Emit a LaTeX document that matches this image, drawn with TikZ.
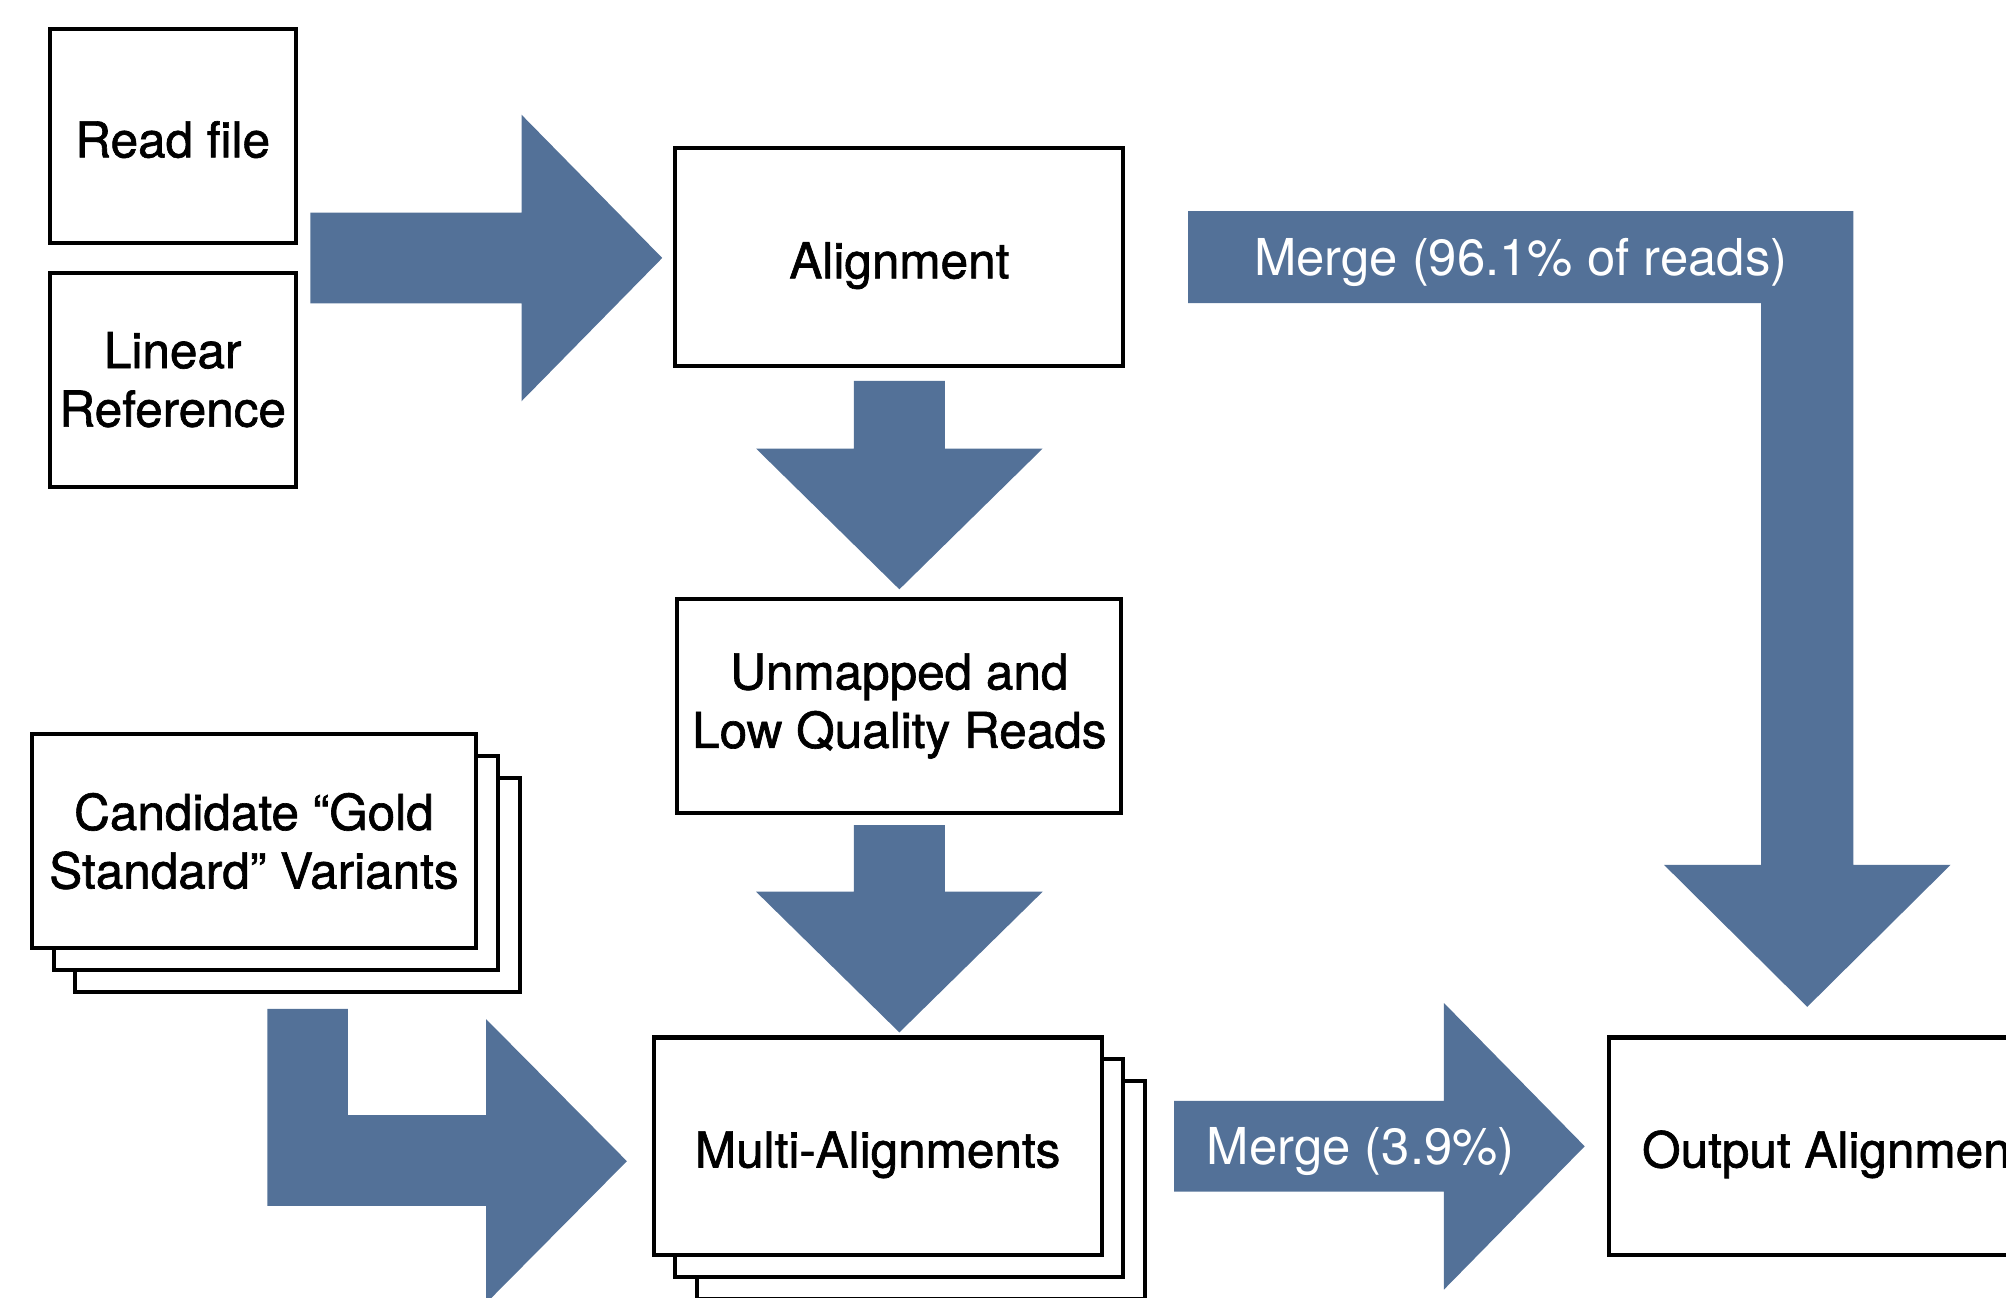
\documentclass[tikz,border=0pt]{standalone}
\usepackage{fontspec}
\setmainfont{TeX Gyre Heros}
\newfontfamily\boxfont{TeX Gyre Heros}[FakeBold=1.3]
\usetikzlibrary{positioning,calc,shadows}
\definecolor{FlowBlue}{RGB}{83,113,152}
\tikzset{
  pbox/.style={rectangle,draw=black,line width=0.9pt,fill=white,
               font=\boxfont\fontsize{11pt}{13pt}\selectfont,align=center,
               minimum width=3.5cm,minimum height=1.7cm,inner sep=2pt},
  sbox/.style={pbox,minimum width=1.92cm,minimum height=1.67cm},
  pstack/.style={pbox,
               copy shadow={shadow xshift=0.34cm,shadow yshift=-0.34cm},
               copy shadow={shadow xshift=0.17cm,shadow yshift=-0.17cm}},
  oneline/.style={text height=9.4pt,text depth=0pt},
  barrow/.style={fill=FlowBlue},
  mlabel/.style={text=white,font=\fontsize{11.3pt}{13pt}\selectfont,inner sep=0pt,
               text height=8.1pt,text depth=0pt},
}
% block arrows: #1 tail centre, #2 shaft length
\newcommand{\hblock}[2]{%
  \fill[barrow] (#1) ++(0,-35.5) -- ++(#2,0) -- ++(0,-76.5) -- ++(110,112)
    -- ++(-110,112) -- ++(0,-76.5) -- ++(-#2,0) -- cycle;}
\newcommand{\vblock}[2]{%
  \fill[barrow] (#1) ++(-35.5,0) -- ++(0,#2) -- ++(-76.5,0) -- ++(112,110)
    -- ++(112,-110) -- ++(-76.5,0) -- ++(0,-#2) -- cycle;}

\begin{document}
\begin{tikzpicture}[x=0.01cm,y=-0.01cm]
    \clip (0,0) rectangle (1568,1014);

    % inputs
    \node[sbox,oneline] (readf) at (135,106.5) {Read file};
    \node[sbox,below=0.22cm of readf,yshift=0.02cm] (linref) {Linear\\Reference};

    \node[pbox,oneline] (align) at (703,201) {Alignment};
    \node[pbox,minimum width=3.47cm,minimum height=1.67cm,below=1.79cm of align] (unmap)
        {Unmapped and\\Low Quality Reads};

    \node[pstack,minimum width=3.47cm,minimum height=1.67cm] (cand) at (198.5,657.5)
        {Candidate “Gold\\Standard” Variants};
    \node[pstack,oneline] (multi) at (686,896) {Multi-Alignments};
    \node[pbox,oneline] (output) at (1433,896) {Output Alignment};

    % arrows
    \coordinate (rtail) at ($(readf.south east)!0.5!(linref.north east)+(10,0)$);
    \hblock{rtail}{165}
    \vblock{$(align.south)+(0,10)$}{53}
    \vblock{$(align.south |- unmap.south)+(0,8)$}{52}

    \coordinate (m1tail) at ($(align.east)+(49,0)$);
    \fill[barrow] (m1tail) ++(0,-36) -- ++(520,0) -- ++(0,511) -- ++(76,0)
        -- ++(-112,111) -- ++(-112,-111) -- ++(76,0) -- ++(0,-439) -- ++(-448,0) -- cycle;
    \node[mlabel] (m1lbl) at ($(m1tail)+(260,0)$) {Merge (96.1\% of reads)};

    \coordinate (gtail) at ($(cand.south)+(42,46)$);
    \fill[barrow] (gtail) ++(-31.5,0) -- ++(0,154) -- ++(171,0) -- ++(0,76)
        -- ++(110,-111) -- ++(-110,-111) -- ++(0,75) -- ++(-108,0) -- ++(0,-83) -- cycle;

    \coordinate (m2tail) at ($(multi.east)+(55,0)$);
    \hblock{m2tail}{211}
    \node[mlabel] (m2lbl) at ($(m2tail)+(146,0)$) {Merge (3.9\%)};

\end{tikzpicture}
\end{document}
